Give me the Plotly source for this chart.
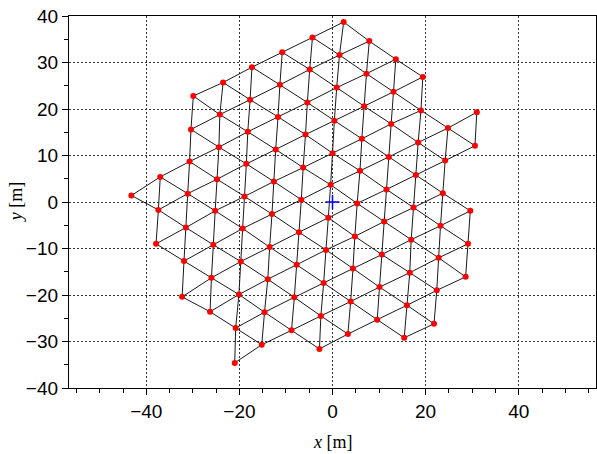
import math
import plotly.graph_objects as go

# Node coordinates [m], read column by column (bottom-left to top-right lattice)
node_x = [
    -43.2,
    -37.0, -37.4, -37.9,
    -29.9, -30.4, -30.7, -31.1, -31.5, -31.9, -32.3,
    -23.5, -24.2, -24.4, -24.8, -25.2, -25.6, -26.0, -26.3,
    -17.3, -17.7, -18.2, -18.5, -18.9, -19.3, -19.7, -20.1, -20.8, -21.0,
    -10.8, -11.3, -11.7, -12.2, -12.6, -13.0, -13.5, -13.9, -14.6, -15.2,
    -4.3, -4.9, -5.4, -5.8, -6.3, -6.7, -7.2, -7.7, -8.2, -8.8,
    2.4, 1.5, 0.9, 0.4, 0.0, -0.4, -0.9, -1.4, -1.9, -2.5, -2.8,
    7.9, 7.3, 6.8, 6.3, 5.9, 5.3, 4.8, 4.4, 3.9, 3.3,
    13.6, 13.1, 12.6, 12.1, 11.6, 11.1, 10.6, 10.1, 9.6,
    19.4, 19.0, 18.4, 17.9, 17.4, 16.9, 16.6, 16.0, 15.4,
    24.8, 24.2, 23.7, 23.2, 22.8, 22.4, 21.8,
    31.0, 30.6, 29.6, 29.1, 28.6,
]
node_y = [
    1.4,
    5.4, -1.7, -9.0,
    22.8, 15.6, 8.7, 1.8, -5.5, -12.7, -20.4,
    25.7, 18.8, 11.8, 4.9, -1.9, -9.2, -16.3, -23.6,
    29.0, 22.0, 15.1, 8.2, 1.2, -5.7, -12.8, -19.9, -27.1, -34.6,
    32.2, 25.2, 18.3, 11.3, 4.4, -2.6, -9.7, -16.6, -23.7, -30.7,
    35.4, 28.5, 21.4, 14.5, 7.4, 0.5, -6.5, -13.5, -20.5, -27.6,
    38.7, 31.6, 24.6, 17.5, 10.5, 3.7, -3.4, -10.3, -17.4, -24.5, -31.6,
    34.6, 27.6, 20.6, 13.6, 6.7, -0.3, -7.4, -14.3, -21.4, -28.4,
    30.7, 23.7, 16.8, 9.7, 2.7, -4.2, -11.3, -18.3, -25.3,
    26.9, 19.7, 12.8, 5.8, -1.2, -8.1, -15.2, -22.2, -29.2,
    15.9, 8.9, 1.9, -5.1, -12.0, -19.0, -26.2,
    19.3, 12.1, -1.9, -9.0, -16.1,
]

# Reference point
ref_x = [0.0]
ref_y = [0.0]

x_ticks = [-40, -20, 0, 20, 40]
y_ticks = [-40, -30, -20, -10, 0, 10, 20, 30, 40]
max_edge = 9.5  # nearest-neighbour links of the triangular mesh

ex, ey = [], []
n = len(node_x)
for i in range(n):
    for j in range(i + 1, n):
        d = math.hypot(node_x[i] - node_x[j], node_y[i] - node_y[j])
        if d < max_edge:
            ex += [node_x[i], node_x[j], None]
            ey += [node_y[i], node_y[j], None]

fig = go.Figure()
fig.add_trace(go.Scatter(x=ex, y=ey, mode="lines",
                         line=dict(color="#1a1a1a", width=1), hoverinfo="skip"))
fig.add_trace(go.Scatter(x=node_x, y=node_y, mode="markers",
                         marker=dict(color="#ff0000", size=6, line=dict(width=0))))
fig.add_trace(go.Scatter(x=ref_x, y=ref_y, mode="markers",
                         marker=dict(symbol="cross-thin", size=10,
                                     line=dict(color="#0000ff", width=1.5))))

tick_font = dict(family="Liberation Sans, Arial, sans-serif", size=19, color="black")
grid_common = dict(showgrid=True, gridcolor="#333333", griddash="2px,2px", gridwidth=1,
                   showline=True, linecolor="black", linewidth=1.2, mirror=True,
                   zeroline=False, ticks="outside", ticklen=6, tickcolor="black",
                   tickfont=tick_font,
                   minor=dict(dtick=5, tick0=0, ticks="outside", ticklen=4,
                              tickcolor="black", showgrid=False))
fig.update_layout(
    width=597, height=454,
    margin=dict(l=69, r=1, t=16, b=66),
    plot_bgcolor="white", paper_bgcolor="white",
    showlegend=False,
    xaxis=dict(range=[-56.6, 56.6], tickvals=x_ticks, **grid_common),
    yaxis=dict(range=[-40, 40], tickvals=y_ticks, **grid_common),
    annotations=[
        dict(text="<i>x</i> [m]", xref="paper", yref="paper", x=0.5, y=-0.145,
             xanchor="center", yanchor="middle", showarrow=False,
             font=dict(family="Liberation Serif, DejaVu Serif, serif", size=18, color="black")),
        dict(text="<i>y</i> [m]", xref="paper", yref="paper", x=-0.1, y=0.5,
             xanchor="center", yanchor="middle", showarrow=False, textangle=-90,
             font=dict(family="Liberation Serif, DejaVu Serif, serif", size=18, color="black")),
    ],
)

fig.write_html("out.html")
